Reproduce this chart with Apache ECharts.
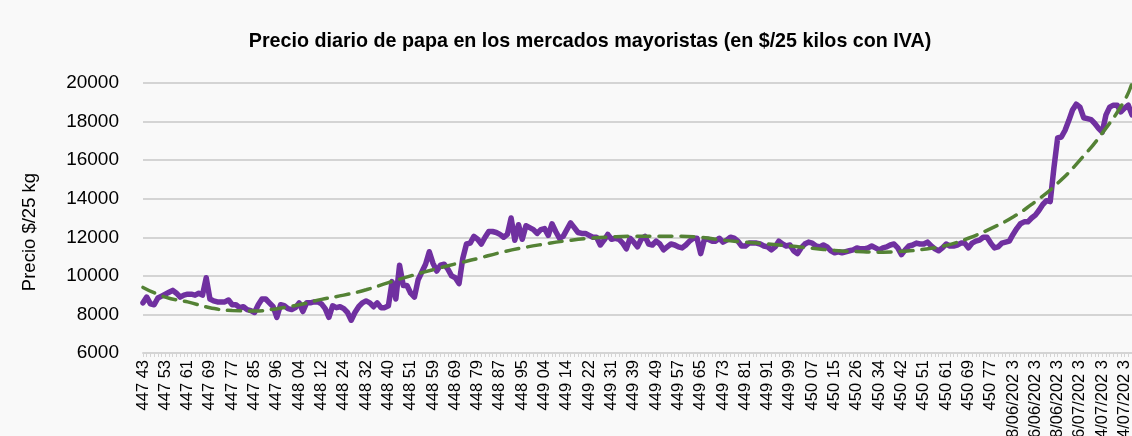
<!DOCTYPE html>
<html>
<head>
<meta charset="utf-8">
<script src="https://cdn.jsdelivr.net/npm/echarts@6/dist/echarts.min.js"></script>
<style>
    html, body {margin: 0; padding: 0; background: #f9f9f9;}
    #chart {width: 1132px; height: 436px;}
</style>
</head>
<body>
<div id="chart"></div>
<script>
// etiquetas del eje x (una cada 6 días de mercado)
var tickLabels = ["447 43", "447 53", "447 61", "447 69", "447 77", "447 85", "447 96",
    "448 04", "448 12", "448 24", "448 32", "448 40", "448 51", "448 59", "448 69", "448 79", "448 87", "448 95",
    "449 04", "449 14", "449 22", "449 31", "449 39", "449 49", "449 57", "449 65", "449 73", "449 81", "449 91", "449 99",
    "450 07", "450 15", "450 26", "450 34", "450 42", "450 51", "450 61", "450 69", "450 77",
    "08/06/202 3", "16/06/202 3", "28/06/202 3", "06/07/202 3", "14/07/202 3", "24/07/202 3"];

// precio diario ($/25 kg)
var precio = [
    8600, 8900, 8550, 8500, 8850, 8950, 9050, 9150, 9250, 9100,
    8900, 9000, 9050, 9050, 9000, 9100, 9000, 9900, 8800, 8700,
    8650, 8650, 8650, 8750, 8500, 8500, 8350, 8400, 8250, 8200,
    8100, 8500, 8800, 8800, 8600, 8400, 7850, 8500, 8450, 8300,
    8250, 8350, 8600, 8150, 8600, 8600, 8650, 8650, 8550, 8300,
    7850, 8450, 8350, 8400, 8300, 8100, 7700, 8100, 8400, 8600,
    8700, 8600, 8400, 8600, 8350, 8350, 8450, 9700, 8800, 10550,
    9500, 9500, 9100, 8900, 9800, 10200, 10600, 11250, 10650, 10250,
    10550, 10600, 10350, 10000, 9900, 9600, 10900, 11650, 11700, 12050,
    11900, 11650, 12000, 12300, 12300, 12250, 12150, 12000, 12150, 13000,
    11850, 12650, 11900, 12600, 12500, 12400, 12200, 12400, 12450, 12100,
    12700, 12300, 11950, 12050, 12400, 12750, 12500, 12250, 12200, 12200,
    12100, 12000, 12000, 11600, 11850, 12150, 11900, 11950, 11900, 11700,
    11400, 11950, 11750, 11500, 11900, 12050, 11650, 11600, 11800, 11650,
    11350, 11500, 11650, 11600, 11500, 11450, 11600, 11800, 11950, 11950,
    11150, 11900, 11900, 11800, 11800, 11950, 11750, 11850, 12000, 11950,
    11800, 11550, 11550, 11700, 11700, 11700, 11650, 11550, 11500, 11350,
    11500, 11800, 11650, 11550, 11600, 11300, 11150, 11450, 11650, 11750,
    11700, 11550, 11500, 11600, 11500, 11300, 11200, 11250, 11200, 11250,
    11300, 11350, 11450, 11400, 11400, 11450, 11550, 11450, 11350, 11450,
    11500, 11600, 11650, 11450, 11100, 11350, 11550, 11600, 11700, 11650,
    11650, 11750, 11550, 11400, 11300, 11450, 11650, 11550, 11550, 11600,
    11700, 11700, 11450, 11700, 11800, 11850, 12000, 12000, 11700, 11450,
    11500, 11700, 11750, 11800, 12150, 12450, 12700, 12800, 12800, 13000,
    13150, 13400, 13700, 13900, 13850, 15600, 17150, 17200, 17550, 18050,
    18600, 18900, 18750, 18200, 18150, 18100, 17900, 17650, 17450, 18350,
    18750, 18850, 18850, 18500, 18700, 18850, 18350
];

var tendencia = [9400, 8900, 8650, 8350, 8200, 8180, 8300, 8500, 8780, 9000,
    9280, 9650, 10000, 10320, 10620, 10900, 11200, 11450, 11650, 11820,
    11950, 12020, 12050, 12050, 12050, 12000, 11850, 11750, 11650, 11550,
    11430, 11320, 11260, 11230, 11270, 11380, 11580, 11950, 12450, 13050,
    13850, 14800, 16000, 17400, 19100];
var tendenciaFinal = 20000;

var yTicks = {min: 6000, max: 20000, interval: 2000};
var paso = 6;

var categories = [];
for (var i = 0; i < precio.length; i++) {
    var k = Math.floor(i / paso);
    categories.push(i % paso === 0 ? tickLabels[k] : tickLabels[k] + '_' + (i % paso));
}

var tendData = [];
for (var i = 0; i < precio.length; i++) {
    tendData.push(i % paso === 0 && tendencia[i / paso] != null ? tendencia[i / paso] : null);
}
tendData[precio.length - 1] = tendenciaFinal;

var myChart = echarts.init(document.getElementById('chart'));
var option = {
    backgroundColor: '#f9f9f9',
    animation: false,
    textStyle: {fontFamily: 'Liberation Sans, Arial, sans-serif'},
    title: {
        text: 'Precio diario de papa en los mercados mayoristas (en $/25 kilos con IVA)',
        left: 585,
        textAlign: 'center',
        top: 27,
        textStyle: {fontSize: 19.7, fontWeight: 'bold', color: '#000', fontFamily: 'Liberation Sans, Arial, sans-serif'}
    },
    grid: {left: 143, right: 0, top: 83, bottom: 83, outerBoundsMode: 'none', containLabel: false},
    xAxis: {
        type: 'category',
        boundaryGap: false,
        data: categories,
        axisLine: {lineStyle: {color: '#d4d4d4', width: 2}},
        axisTick: {show: true, interval: 0, length: 4, lineStyle: {color: '#d4d4d4'}},
        axisLabel: {
            interval: paso - 1,
            rotate: 90,
            fontSize: 16.5,
            color: '#000',
            margin: 7
        },
        splitLine: {show: false}
    },
    yAxis: {
        type: 'value',
        min: yTicks.min,
        max: yTicks.max,
        interval: yTicks.interval,
        name: 'Precio $/25 kg',
        nameLocation: 'middle',
        nameGap: 104,
        nameTextStyle: {fontSize: 18.5, color: '#000', padding: [0, 0, 0, -28]},
        axisLine: {show: false},
        axisTick: {show: false},
        axisLabel: {
            fontSize: 19,
            color: '#000',
            margin: 24,
            formatter: function (v) { return String(v); }
        },
        splitLine: {lineStyle: {color: '#d4d4d4', width: 2}}
    },
    series: [
        {
            name: 'Precio',
            type: 'line',
            data: precio,
            showSymbol: false,
            symbol: 'none',
            lineStyle: {color: '#7030a0', width: 5.5, join: 'round', cap: 'round'},
            z: 2
        },
        {
            name: 'Tendencia',
            type: 'line',
            data: tendData,
            connectNulls: true,
            smooth: 0.5,
            showSymbol: false,
            symbol: 'none',
            lineStyle: {color: '#548235', width: 3.5, type: [13, 9], cap: 'round'},
            z: 3
        }
    ]
};
myChart.setOption(option);
</script>
</body>
</html>
